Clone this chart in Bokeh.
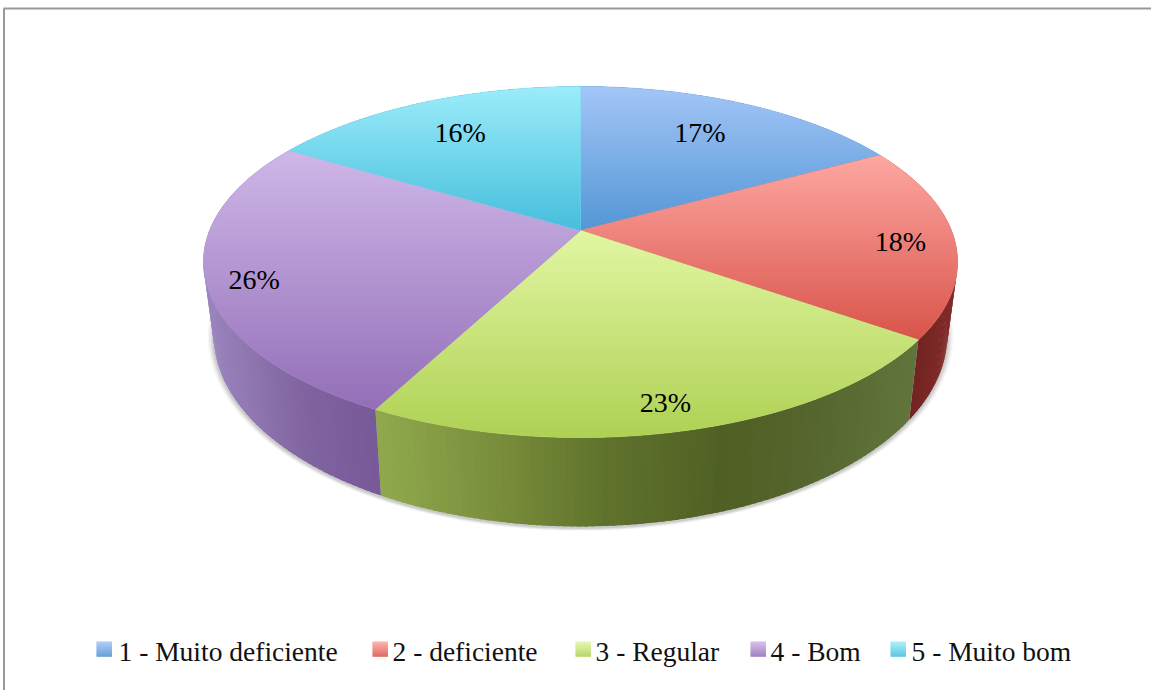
import numpy as np
from bokeh.plotting import figure
from bokeh.embed import file_html
from bokeh.resources import INLINE
from bokeh.core.properties import value
from bokeh.models import Range1d

categories = ["1 - Muito deficiente", "2 - deficiente", "3 - Regular", "4 - Bom", "5 - Muito bom"]
values = [17.0, 17.8, 22.9, 25.9, 16.4]
pct_labels = ["17%", "18%", "23%", "26%", "16%"]

top_light = [(163, 198, 247), (253, 167, 162), (226, 246, 163), (207, 183, 232), (156, 236, 250)]
top_dark = [(84, 150, 214), (217, 84, 74), (174, 209, 84), (147, 111, 184), (70, 190, 220)]
wall_stops = [
    ([0, 1151], [(60, 90, 130), (60, 90, 130)]),
    ([905, 950], [(108, 34, 32), (128, 42, 40)]),
    ([380, 500, 600, 720, 800, 910], [(143, 168, 76), (120, 140, 58), (96, 115, 45), (80, 96, 36), (84, 100, 44), (96, 116, 60)]),
    ([205, 300, 380], [(154, 132, 189), (128, 100, 160), (118, 88, 150)]),
    ([0, 1151], [(40, 120, 140), (40, 120, 140)]),
]
legend_box_x = [96, 372, 575, 750, 890]
legend_text_x = [118, 392, 595, 770, 911]
label_radius = [0.72, 0.88, 0.87, 0.88, 0.72]
label_dx = [-3, -9, -4, 2, -2]
label_dy = [-3, 2, 3, 7, -2]

CX, CY, A, B, K = 580.0, 230.0, 370.9, 169.8, 0.1795
FONT = "Liberation Serif"


def rim(theta, r=1.0):
    u, v = r * np.sin(theta), r * np.cos(theta)
    w = 1 + K * v
    return CX + A * u / w, CY - B * v / w


def base(x, y):
    return CX + (x - CX) * 0.973, y + 89 - (437 - y) * 0.093


def hexc(c):
    return "#%02x%02x%02x" % tuple(int(round(t)) for t in c)


def mix(a, b, t):
    return tuple(a[i] + (b[i] - a[i]) * t for i in range(3))


def clip_band(pts, y0, y1):
    def clip(poly, keep, cross):
        out = []
        for i in range(len(poly)):
            p, q = poly[i - 1], poly[i]
            if keep(q):
                if not keep(p):
                    out.append(cross(p, q))
                out.append(q)
            elif keep(p):
                out.append(cross(p, q))
        return out

    def at(level):
        return lambda p, q: (p[0] + (q[0] - p[0]) * (level - p[1]) / (q[1] - p[1]), level)

    res = clip(pts, lambda p: p[1] >= y0, at(y0))
    if res:
        res = clip(res, lambda p: p[1] <= y1, at(y1))
    return res


p = figure(width=1151, height=690, output_backend="svg", toolbar_location=None,
           x_range=Range1d(0, 1151), y_range=Range1d(690, 0), min_border=0,
           outline_line_color=None, background_fill_color="white", border_fill_color="white")
p.axis.visible = False
p.grid.visible = False

# frame
p.line([3.5, 3.5], [690, 8], line_color="#999999", line_width=2)
p.line([3, 1151], [8, 8], line_color="#999999", line_width=2)

cum = np.concatenate([[0], np.cumsum(values)]) / np.sum(values) * 2 * np.pi

# soft shadow under the pie
ring = np.linspace(0, 2 * np.pi, 240)
bx, by = base(*rim(ring))
for s, a in [(1.016, 0.05), (1.012, 0.07), (1.008, 0.09), (1.004, 0.12)]:
    p.patch(CX + (bx - CX) * s, by + (by - 345) * (s - 1) + 1.5, fill_color="#555555", fill_alpha=a, line_color=None)

# side walls
for i in range(5):
    th = np.linspace(cum[i], cum[i + 1], 90)
    xs, ys, cols = [], [], []
    for t0, t1 in zip(th[:-1], th[1:]):
        t1x = min(t1 + 0.6 * (th[1] - th[0]), cum[i + 1])
        x0, y0 = rim(t0)
        x1, y1 = rim(t1x)
        xb0, yb0 = base(x0, y0)
        xb1, yb1 = base(x1, y1)
        xs.append([x0, x1, xb1, xb0])
        ys.append([y0, y1, yb1, yb0])
        sx, sc = wall_stops[i]
        cols.append(hexc([np.interp((x0 + x1) / 2, sx, [c[k] for c in sc]) for k in range(3)]))
    p.patches(xs, ys, fill_color=cols, line_color=None)

# top faces with a vertical gradient
for i in range(5):
    th = np.linspace(cum[i], cum[i + 1], 120)
    rx, ry = rim(th)
    poly = [(CX, CY)] + list(zip(rx, ry))
    ymin = min(q[1] for q in poly)
    ymax = max(q[1] for q in poly)
    p.patch([q[0] for q in poly], [q[1] for q in poly], fill_color=hexc(mix(top_light[i], top_dark[i], 0.5)),
            line_color=hexc(mix(top_light[i], top_dark[i], 0.5)), line_width=0.7)
    edges = np.arange(ymin, ymax + 2, 2)
    xs, ys, cols = [], [], []
    for y0, y1 in zip(edges[:-1], edges[1:]):
        part = clip_band(poly, y0, y1 + 1.0)
        if len(part) >= 3:
            xs.append([q[0] for q in part])
            ys.append([q[1] for q in part])
            cols.append(hexc(mix(top_light[i], top_dark[i], ((y0 + y1) / 2 - ymin) / (ymax - ymin))))
    p.patches(xs, ys, fill_color=cols, line_color=None)

# percentage labels
mid = (cum[:-1] + cum[1:]) / 2
lx, ly = rim(mid, np.array(label_radius))
p.text(lx, ly, text=pct_labels, x_offset=label_dx, y_offset=label_dy, text_font=value(FONT),
       text_font_size="28px", text_color="#000000", text_align="center", text_baseline="middle")

# legend
for i in range(5):
    rows = np.arange(641, 656)
    cols = [hexc(mix(top_light[i], top_dark[i], (r - 641) / 14)) for r in rows]
    p.quad(left=legend_box_x[i], right=legend_box_x[i] + 15.5, top=rows, bottom=rows + 1.2,
           fill_color=cols, line_color=None)
p.text(legend_text_x, [651] * 5, text=categories, text_font=value(FONT), text_font_size="27.5px",
       text_color="#111111", text_align="left", text_baseline="middle")

open("out.html", "w").write(file_html(p, INLINE))
